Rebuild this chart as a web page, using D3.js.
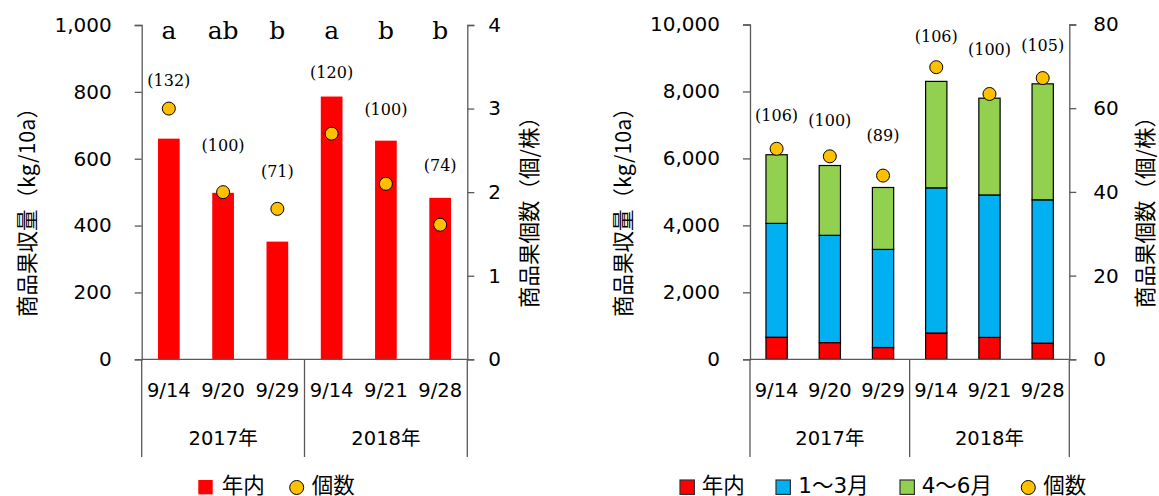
<!DOCTYPE html>
<html lang="ja">
<head>
<meta charset="utf-8">
<script src="https://cdn.jsdelivr.net/npm/d3@7"></script>
<style>
  html, body { margin: 0; padding: 0; background: #fff; }
  svg { display: block; }
</style>
</head>
<body>
<svg id="chart" width="1159" height="496"></svg>
<script>
// Harvest dates and seasons
const dates = ["9/14", "9/20", "9/29", "9/14", "9/21", "9/28"];
const years = ["2017年", "2018年"];

// Marketable yield by harvest period (kg/10a)
const yieldInYear = [660, 498, 352, 786, 654, 483];     // 年内
const yieldJanMar = [3400, 3205, 2930, 4335, 4255, 4280]; // 1～3月
const yieldAprJun = [2050, 2085, 1850, 3180, 2890, 3465]; // 4～6月

// Marketable fruit count (fruits/plant)
const fruitsInYear = [3.00, 2.00, 1.80, 2.70, 2.10, 1.61];
const fruitsTotal = [50.3, 48.5, 43.9, 69.8, 63.4, 67.2];

// Yield index (standard date = 100) and significance letters
const indexInYear = ["(132)", "(100)", "(71)", "(120)", "(100)", "(74)"];
const indexTotal = ["(106)", "(100)", "(89)", "(106)", "(100)", "(105)"];
const sigLetters = ["a", "ab", "b", "a", "b", "b"];

// Height (in kg/10a) at which each index label sits
const indexAtInYear = [835, 640, 563, 857, 747, 579];
const indexAtTotal = [7280, 7130, 6680, 9630, 9260, 9380];

// Axis ticks
const yieldTicksL = [0, 200, 400, 600, 800, 1000];
const countTicksL = [0, 1, 2, 3, 4];
const yieldTicksR = [0, 2000, 4000, 6000, 8000, 10000];
const countTicksR = [0, 20, 40, 60, 80];

const seriesNames = ["年内", "1～3月", "4～6月", "個数"];
const colors = { inYear: "#FF0000", janMar: "#00B0F0", aprJun: "#92D050", dot: "#FFC000" };

const svg = d3.select("#chart");
const axisColor = "#595959";
const tickFont = "'DejaVu Sans', 'Noto Sans CJK JP', sans-serif";
const cjkFont = "'Noto Sans CJK JP', 'DejaVu Sans', sans-serif";
const serifFont = "'DejaVu Serif', 'Liberation Serif', serif";

function frame(cfg) {
  const g = svg.append("g");
  const idx = d3.range(dates.length);
  const x = d3.scaleBand().domain(idx).range([cfg.x0, cfg.x1]).paddingInner(0.6).paddingOuter(0.3);
  const y = d3.scaleLinear().domain([0, cfg.yMax]).range([cfg.yBottom, cfg.yTop]);
  const y2 = d3.scaleLinear().domain([0, cfg.y2Max]).range([cfg.yBottom, cfg.yTop]);

  // left axis
  const la = g.append("g").attr("transform", `translate(${cfg.x0},0)`)
    .call(d3.axisLeft(y).tickValues(cfg.ticks).tickSize(7).tickSizeOuter(7).tickPadding(23)
      .tickFormat(d3.format(",")));
  // right axis
  const ra = g.append("g").attr("transform", `translate(${cfg.x1},0)`)
    .call(d3.axisRight(y2).tickValues(cfg.ticks2).tickSize(7).tickSizeOuter(7).tickPadding(cfg.pad2)
      .tickFormat(d3.format("d")));
  [la, ra].forEach(a => {
    a.selectAll("path, line").attr("stroke", axisColor).attr("stroke-width", 1.3);
    a.selectAll("text").attr("font-family", tickFont).attr("font-size", 20).attr("fill", "#000");
  });

  // category axis: baseline, group separators, date and year labels
  g.append("line").attr("x1", cfg.x0).attr("x2", cfg.x1)
    .attr("y1", cfg.yBottom).attr("y2", cfg.yBottom)
    .attr("stroke", axisColor).attr("stroke-width", 1.3);
  const mid = (cfg.x0 + cfg.x1) / 2;
  [cfg.x0, mid, cfg.x1].forEach(xx => {
    g.append("line").attr("x1", xx).attr("x2", xx)
      .attr("y1", cfg.yBottom).attr("y2", 457)
      .attr("stroke", axisColor).attr("stroke-width", 1.3);
  });
  g.selectAll(".date").data(idx).join("text")
    .attr("x", i => x(i) + x.bandwidth() / 2).attr("y", 390)
    .attr("text-anchor", "middle").attr("dominant-baseline", "central")
    .attr("font-family", tickFont).attr("font-size", 19.5).text(i => dates[i]);
  years.forEach((yr, k) => {
    g.append("text").attr("x", k === 0 ? (cfg.x0 + mid) / 2 : (mid + cfg.x1) / 2).attr("y", 438.5)
      .attr("text-anchor", "middle").attr("dominant-baseline", "central")
      .attr("font-family", tickFont).attr("font-size", 19.5).text(yr);
  });

  // axis titles
  const title = (tx, txt) => g.append("text")
    .attr("transform", `translate(${tx},${cfg.titleY}) rotate(-90)`)
    .attr("text-anchor", "middle").attr("dominant-baseline", "central")
    .attr("font-family", cjkFont).attr("font-size", 21.5).attr("fill", "#000").text(txt);
  title(cfg.titleX1, "商品果収量（kg/10a）");
  title(cfg.titleX2, "商品果個数（個/株）");

  return { g, x, y, y2, idx };
}

function dots(f, values) {
  f.g.selectAll(".dot").data(f.idx).join("circle")
    .attr("cx", i => f.x(i) + f.x.bandwidth() / 2).attr("cy", i => f.y2(values[i]))
    .attr("r", 6.5).attr("fill", colors.dot).attr("stroke", "#000").attr("stroke-width", 1);
}

function indexLabels(f, labels, at) {
  f.g.selectAll(".idx").data(f.idx).join("text")
    .attr("x", i => f.x(i) + f.x.bandwidth() / 2).attr("y", i => f.y(at[i]))
    .attr("text-anchor", "middle").attr("dominant-baseline", "central")
    .attr("font-family", serifFont).attr("font-size", 16).attr("fill", "#000").text(i => labels[i]);
}

// ---- Left chart: 年内 yield and fruit count ----
const L = frame({ x0: 141.7, x1: 467.3, yTop: 25, yBottom: 359.3, yMax: 1000, y2Max: 4,
  ticks: yieldTicksL, ticks2: countTicksL, pad2: 14, titleX1: 25, titleX2: 527, titleY: 207 });
L.g.insert("g", ":first-child").selectAll("rect").data(L.idx).join("rect")
  .attr("x", i => L.x(i)).attr("width", L.x.bandwidth())
  .attr("y", i => L.y(yieldInYear[i])).attr("height", i => L.y(0) - L.y(yieldInYear[i]))
  .attr("fill", colors.inYear);
dots(L, fruitsInYear);
indexLabels(L, indexInYear, indexAtInYear);
L.g.selectAll(".sig").data(L.idx).join("text")
  .attr("x", i => L.x(i) + L.x.bandwidth() / 2).attr("y", 39)
  .attr("text-anchor", "middle")
  .attr("font-family", serifFont).attr("font-size", 25).attr("fill", "#000").text(i => sigLetters[i]);

// ---- Right chart: stacked yield by period and fruit count ----
const R = frame({ x0: 750, x1: 1069.3, yTop: 24.5, yBottom: 359.3, yMax: 10000, y2Max: 80,
  ticks: yieldTicksR, ticks2: countTicksR, pad2: 17, titleX1: 621, titleX2: 1143, titleY: 207 });
const table = d3.range(dates.length).map(i => ({
  inYear: yieldInYear[i], janMar: yieldJanMar[i], aprJun: yieldAprJun[i]
}));
const stack = d3.stack().keys(["inYear", "janMar", "aprJun"])(table);
const barLayer = R.g.insert("g", ":first-child");
stack.forEach(layer => {
  barLayer.append("g").selectAll("rect").data(layer).join("rect")
    .attr("x", (d, i) => R.x(i)).attr("width", R.x.bandwidth())
    .attr("y", d => R.y(d[1])).attr("height", d => R.y(d[0]) - R.y(d[1]))
    .attr("fill", colors[layer.key]).attr("stroke", "#000").attr("stroke-width", 1.2);
});
dots(R, fruitsTotal);
indexLabels(R, indexTotal, indexAtTotal);

// ---- Legends ----
const legendY = 485;
const lg = svg.append("g").attr("font-family", tickFont).attr("font-size", 21.5);
function legendSwatch(xs, color, stroked) {
  lg.append("rect").attr("x", xs).attr("y", 480).attr("width", 14.4).attr("height", 14.4)
    .attr("fill", color).attr("stroke", stroked ? "#333" : "none").attr("stroke-width", 1.2);
}
function legendDot(cx) {
  lg.append("circle").attr("cx", cx).attr("cy", 487.5).attr("r", 7)
    .attr("fill", colors.dot).attr("stroke", "#000").attr("stroke-width", 1);
}
function legendText(xs, txt) {
  lg.append("text").attr("x", xs).attr("y", legendY).attr("dominant-baseline", "central")
    .attr("fill", "#000").text(txt);
}
legendSwatch(198.3, colors.inYear, false); legendText(221.7, seriesNames[0]);
legendDot(296.7); legendText(311.7, seriesNames[3]);

legendSwatch(680, colors.inYear, true); legendText(701.7, seriesNames[0]);
legendSwatch(776, colors.janMar, true); legendText(798.3, seriesNames[1]);
legendSwatch(900, colors.aprJun, true); legendText(921.7, seriesNames[2]);
legendDot(1028.3); legendText(1043.3, seriesNames[3]);
</script>
</body>
</html>
